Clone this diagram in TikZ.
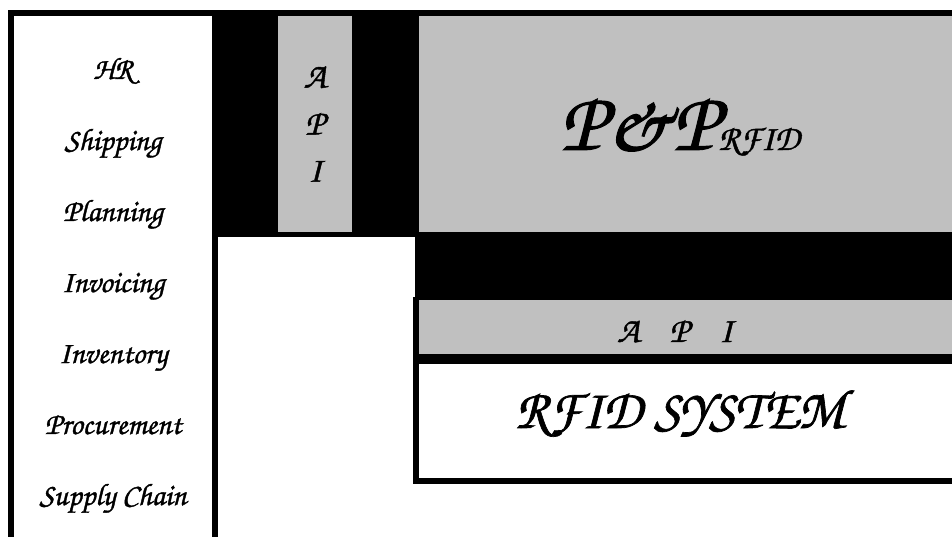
\documentclass[tikz,border=0pt]{standalone}
\usepackage{fontspec}
\setmainfont{texgyrechorus-mediumitalic.otf}[FakeBold=1.2]
\usepackage{xcolor}
\usepackage{tikz}
\usetikzlibrary{positioning}

\definecolor{apigray}{RGB}{192,192,192}

\begin{document}
\begin{tikzpicture}[x=1pt, y=-1pt,
    item/.style={anchor=base, font=\fontsize{31}{31}\selectfont},
    apitext/.style={font=\fontsize{36}{47}\selectfont, align=center}]

\useasboundingbox (0,0) rectangle (952,536);
\clip (0,0) rectangle (952,536);

% Modules column
\draw[line width=6pt] (11,600) -- (11,13) -- (214.5,13) -- (214.5,600);
\foreach \name [count=\i from 0] in {HR,Shipping,Planning,Invoicing,Inventory,Procurement,Supply Chain} {
    \node[item] (mod\i) at (113, 79+71*\i) {\name};
}

% Black frame round the upper blocks
\fill[black] (212,10) rectangle (418,237);
\fill[black] (415,10) rectangle (960,300);
\fill[black] (413,297) rectangle (960,484);

% Vertical API
\fill[apigray] (278,16) rectangle (352,232);
\node[apitext] (apiv) at (315,124) {A\\P\\I};

% P&P RFID block
\fill[apigray] (419,16) rectangle (960,232);
\node[anchor=base] (pp) at (680,150) {\fontsize{85}{85}\selectfont P\&P\fontsize{36}{36}\selectfont RFID};

% Horizontal API
\fill[apigray] (419,300) rectangle (960,354);
\node[anchor=base, font=\fontsize{36}{36}\selectfont] (apih) at (675,342) {A\hspace{30pt}P\hspace{30pt}I};

% RFID system
\fill[white] (419,364) rectangle (960,478);
\node[anchor=base, font=\fontsize{56}{56}\selectfont] (rfid) at (680,428) {RFID SYSTEM};

\end{tikzpicture}
\end{document}
